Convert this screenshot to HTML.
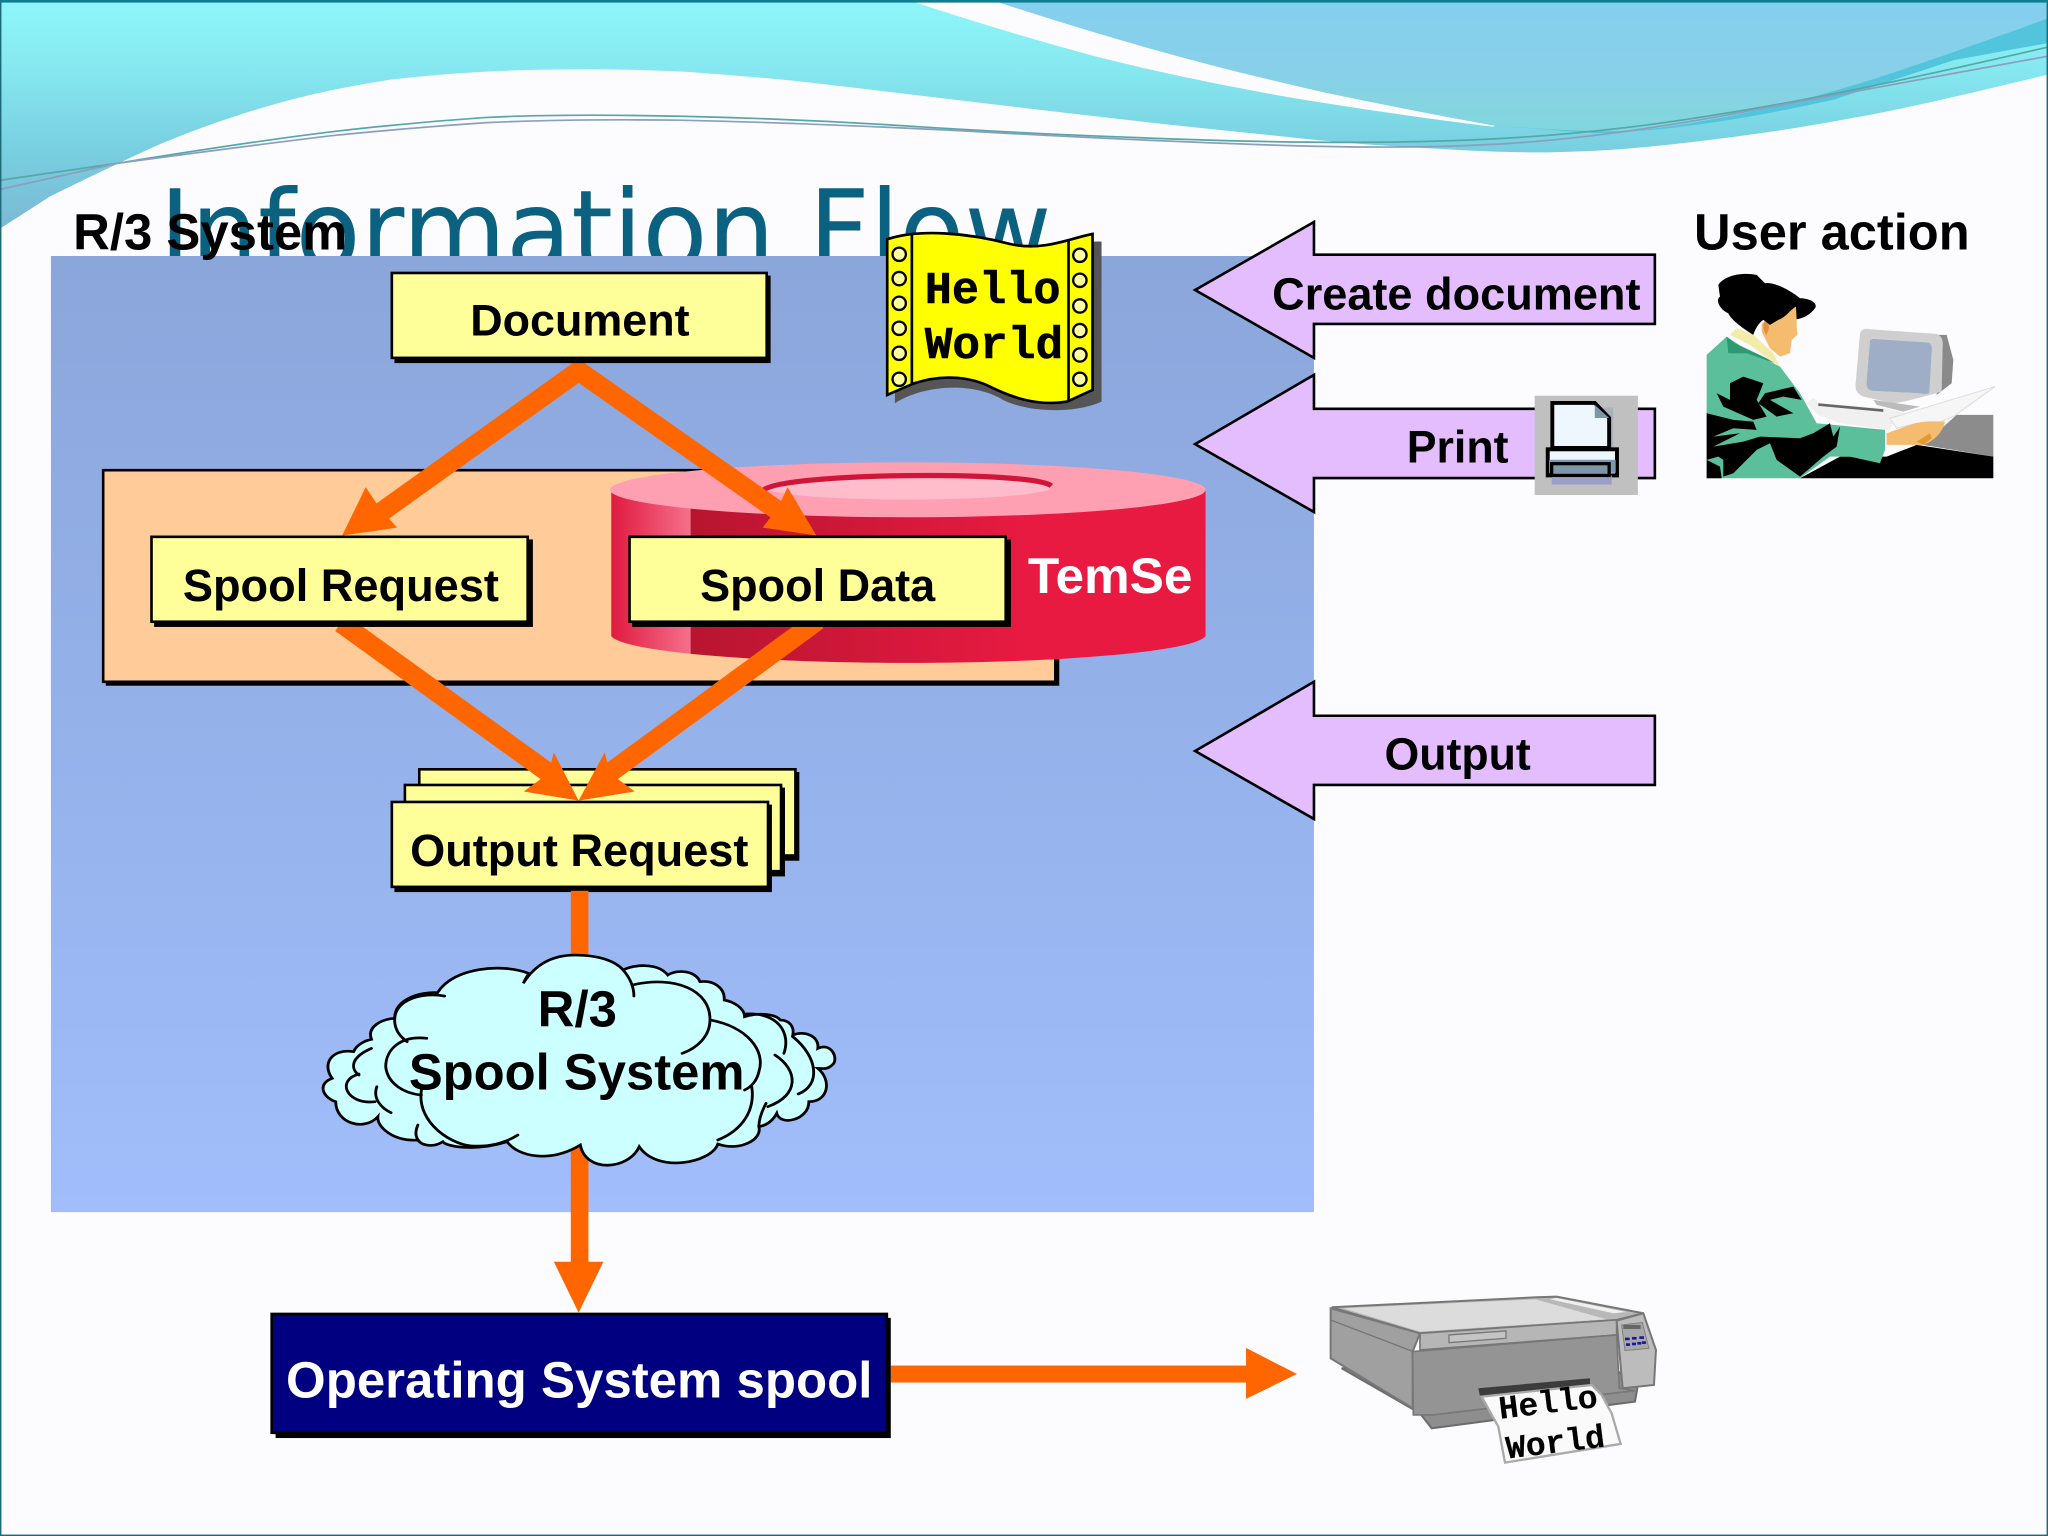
<!DOCTYPE html>
<html><head><meta charset="utf-8"><title>Information Flow</title>
<style>html,body{margin:0;padding:0;background:#fcfbfd}svg{display:block}
text{font-family:"Liberation Sans",sans-serif;font-weight:bold;fill:#000}
.m{font-family:"Liberation Mono",monospace;stroke:#000;stroke-width:.4}</style></head><body>
<svg width="2048" height="1536" viewBox="0 0 1568 1176" xmlns="http://www.w3.org/2000/svg">
<defs>
<linearGradient id="cy" gradientUnits="userSpaceOnUse" x1="0" y1="0" x2="0" y2="176"><stop offset="0" stop-color="#8ef7fa"/><stop offset=".3" stop-color="#86e8f0"/><stop offset=".65" stop-color="#78cfe0"/><stop offset="1" stop-color="#7cb8d4"/></linearGradient>
<linearGradient id="bl" gradientUnits="userSpaceOnUse" x1="0" y1="0" x2="0" y2="100"><stop offset="0" stop-color="#84cfef"/><stop offset=".5" stop-color="#88d0ea"/><stop offset="1" stop-color="#82d6dc"/></linearGradient>
<linearGradient id="pn" x1="0" y1="0" x2="0" y2="1"><stop offset="0" stop-color="#8aa6da"/><stop offset="1" stop-color="#a1bdfb"/></linearGradient>
<linearGradient id="cyl" x1="0" y1="0" x2="1" y2="0"><stop offset="0" stop-color="#e01a40"/><stop offset=".133" stop-color="#f5708a"/><stop offset=".134" stop-color="#b81530"/><stop offset=".7" stop-color="#e81a42"/><stop offset="1" stop-color="#e81a42"/></linearGradient>
</defs>
<rect width="1568" height="1176" fill="#fcfbfd"/>
<!-- banner -->
<path d="M0,175L39,150Q90,125 121,111Q152,98 180,89Q207,80 236,73Q266,66 299,61Q332,57 369,55Q406,53 447,53Q488,53 527,55Q566,58 589,60Q612,62 703,73Q795,84 856,91Q917,98 978,104Q1039,111 1103,114Q1167,118 1206,116Q1246,115 1310,107Q1374,99 1420,90Q1466,82 1568,57V0H0Z" fill="url(#cy)"/>
<path d="M695,0Q771,25 838,43Q905,60 990,75Q1076,89 1143,97L1300,0Z" fill="#fcfbfd"/>
<path d="M759,0Q826,22 887,39Q948,56 1015,71Q1082,85 1143,96Q1222,102 1252,100Q1283,97 1328,88Q1374,79 1420,65Q1466,51 1568,14V0Z" fill="url(#bl)"/>
<path d="M1143,96Q1222,102 1252,100Q1283,97 1328,88Q1374,79 1420,65Q1466,51 1568,14V33L1496,46L1405,76Q1300,100 1222,102Z" fill="#52c4dc"/>
<path d="M0,138L90,125Q195,108 253,101Q312,94 371,90Q430,87 521,89Q612,91 703,97Q795,103 917,107Q1039,111 1130,107Q1222,103 1313,88Q1405,74 1568,36" fill="none" stroke="#55a8a8" stroke-width="1.3"/>
<path d="M0,145L90,125Q195,111 253,104Q312,98 371,94Q430,91 521,92Q612,94 734,100Q856,107 972,111Q1088,115 1167,109Q1246,103 1349,83Q1453,64 1568,43" fill="none" stroke="#8a9fbe" stroke-width="1.3"/>
<rect x=".5" y="1" width="1567" height="1174.5" fill="none" stroke="#1d6a78" stroke-width="1.2"/>
<rect x="0" y="0" width="1568" height="2" fill="#0f7e90"/>
<text x="122" y="206" font-size="85" textLength="683" lengthAdjust="spacingAndGlyphs" style="font-family:'DejaVu Sans',sans-serif;font-weight:normal;fill:#0a6280">Information Flow</text>
<rect x="39" y="196" width="967" height="732" fill="url(#pn)"/>
<text x="56" y="191" font-size="39" textLength="210" lengthAdjust="spacingAndGlyphs">R/3 System</text>
<text x="1297" y="191" font-size="38.7" textLength="211" lengthAdjust="spacingAndGlyphs">User action</text>

<!-- orange spool box -->
<rect x="81" y="362" width="730" height="163" fill="#000"/>
<rect x="79" y="360" width="729" height="162" fill="#ffcc99" stroke="#000" stroke-width="2"/>
<!-- cylinder -->
<path d="M468,376V487A228,22 0 0 0 923,487V376Z" fill="url(#cyl)"/>
<ellipse cx="695" cy="375" rx="228" ry="21" fill="#ff9fb2"/>
<ellipse cx="695" cy="373" rx="110" ry="9.500" fill="#ffbccb"/>
<path d="M585,375C600,362 790,360 805,372" fill="none" stroke="#d01538" stroke-width="4"/>
<text x="787" y="454" font-size="38" textLength="126" lengthAdjust="spacingAndGlyphs" style="fill:#fff">TemSe</text>

<!-- output stack -->
<g stroke="#000" stroke-width="2">
<rect x="324" y="592" width="287" height="66" fill="#000"/><rect x="321" y="589" width="288" height="66" fill="#ffff99"/>
<rect x="313" y="604" width="287" height="66" fill="#000"/><rect x="310" y="601" width="288" height="66" fill="#ffff99"/>
<rect x="303" y="617" width="287" height="65" fill="#000"/><rect x="300" y="614" width="288" height="65" fill="#ffff99"/>
</g>

<!-- orange connectors -->
<g stroke="#ff6600" stroke-width="15" fill="none">
<path d="M292,392L443,284L597,392"/>
<path d="M261,477L426,596"/><path d="M626,475L461,596"/>
</g>
<g fill="#ff6600">
<path d="M262,410L280,373L290,388L304,404Z"/>
<path d="M625,410L603,373L596,388L584,404Z"/>
<path d="M443,613L424,576L420,592L401,606Z"/>
<path d="M443,613L463,576L467,592L486,606Z"/>
<rect x="437" y="682" width="13.5" height="285"/>
<path d="M424,966H462L443,1005Z"/>
<rect x="682" y="1045.500" width="273" height="13"/>
<path d="M954,1032L993,1052L954,1071Z"/>
</g>

<!-- boxes over arrow starts -->
<g stroke="#000" stroke-width="2">
<rect x="303" y="212" width="286" height="65" fill="#000"/><rect x="300" y="209" width="287" height="65" fill="#ffff99"/>
<rect x="119" y="414" width="288" height="65" fill="#000"/><rect x="116" y="411" width="288" height="65" fill="#ffff99"/>
<rect x="485" y="414" width="288" height="65" fill="#000"/><rect x="482" y="411" width="288" height="65" fill="#ffff99"/>
</g>
<text x="360" y="257" font-size="34.4" textLength="168" lengthAdjust="spacingAndGlyphs">Document</text>
<text x="140" y="460" font-size="34.5" textLength="242" lengthAdjust="spacingAndGlyphs">Spool Request</text>
<text x="536" y="460" font-size="34.5" textLength="180" lengthAdjust="spacingAndGlyphs">Spool Data</text>
<text x="314" y="663" font-size="34.5" textLength="259" lengthAdjust="spacingAndGlyphs">Output Request</text>

<!-- cloud -->
<g transform="translate(229.7,704.4) scale(.2734,.2552)" fill="none" stroke="#000" stroke-width="8" stroke-linecap="round">
<path fill="#ccffff" d="M625,190C660,130 710,105 770,105C830,105 880,120 905,150C930,135 1000,125 1030,165C1060,145 1110,155 1120,185C1160,180 1190,205 1188,240C1215,245 1245,265 1245,290C1290,275 1335,285 1345,300C1370,300 1385,320 1380,345C1415,330 1455,350 1450,385C1490,365 1510,420 1490,435C1475,450 1465,445 1450,445C1490,480 1480,545 1425,545C1425,600 1345,620 1335,580C1325,600 1310,615 1285,620C1295,660 1230,695 1170,672C1150,730 1000,760 950,680C920,750 800,760 785,675C700,730 610,710 580,665C490,695 410,680 400,665C370,685 340,675 330,660C260,665 215,620 218,590C180,635 100,610 100,545C60,530 50,490 90,475C60,430 90,385 150,395C160,370 190,360 200,358C185,315 240,295 265,295C265,235 340,215 385,218C430,140 570,130 640,160Z"/>
<path d="M905,150C925,175 935,200 935,228"/>
<path d="M930,195C1050,165 1150,210 1148,300C1148,350 1110,385 1070,400"/>
<path d="M1150,300C1250,320 1305,390 1285,455C1280,480 1265,500 1245,510"/>
<path d="M1245,282C1340,275 1375,340 1355,400"/>
<path d="M1330,405C1395,450 1400,525 1310,560"/>
<path d="M1380,350C1450,410 1460,495 1395,522"/>
<path d="M405,228C340,215 265,240 265,300C265,330 280,350 300,365"/>
<path d="M355,355C280,345 240,390 240,440C245,490 290,520 340,525"/>
<path d="M340,510C325,610 430,680 490,678C540,680 580,665 610,645"/>
<path d="M1265,500C1275,570 1240,630 1170,660"/>
<path d="M215,500C205,530 220,560 255,578"/>
<path d="M165,462C100,480 130,555 210,545"/>
<path d="M200,385C135,415 145,450 165,465"/>
<path d="M330,615C320,640 325,655 335,665"/>
<path d="M1305,550C1290,580 1285,600 1285,620"/>
</g>
<text x="442" y="786" font-size="39" text-anchor="middle">R/3</text>
<text x="313" y="834" font-size="39" textLength="257" lengthAdjust="spacingAndGlyphs">Spool System</text>

<!-- OS spool -->
<rect x="211" y="1009" width="471" height="92" fill="#000"/>
<rect x="208" y="1006" width="471" height="91" fill="#000080" stroke="#000" stroke-width="2"/>
<text x="219" y="1070" font-size="39" textLength="449" lengthAdjust="spacingAndGlyphs" style="fill:#fff">Operating System spool</text>

<!-- Hello World banner -->
<g transform="translate(666,168.4) scale(.2552)" stroke-width="8">
<path d="M75,62C200,40 300,55 420,85C520,110 620,60 695,65V545C620,580 480,580 400,540C300,480 150,500 75,550Z" fill="#555"/>
<path d="M52,58C150,25 300,40 420,72C520,95 600,55 668,42V510L592,545C500,560 420,530 360,500C280,460 190,470 128,492L52,525Z" fill="#ffff00" stroke="#000"/>
<path d="M126,40V494M596,58V544" stroke="#000" fill="none"/>
<g fill="#ffffa0" stroke="#000" stroke-width="7">
<circle cx="88" cy="103" r="20"/><circle cx="88" cy="176" r="20"/><circle cx="88" cy="250" r="20"/><circle cx="88" cy="325" r="20"/><circle cx="88" cy="400" r="20"/><circle cx="88" cy="478" r="20"/>
<circle cx="630" cy="106" r="20"/><circle cx="630" cy="181" r="20"/><circle cx="630" cy="258" r="20"/><circle cx="630" cy="332" r="20"/><circle cx="630" cy="405" r="20"/><circle cx="630" cy="478" r="20"/>
</g>
</g>
<text class="m" x="708" y="232" font-size="34.7" textLength="104" lengthAdjust="spacingAndGlyphs">Hello</text>
<text class="m" x="708" y="274" font-size="34.7" textLength="106" lengthAdjust="spacingAndGlyphs">World</text>

<!-- user action arrows -->
<g fill="#e3bdfd" stroke="#000" stroke-width="2">
<path d="M915,222L1006,170V195H1267V248H1006V274Z"/>
<path d="M915,340L1006,287V313H1267V366H1006V392Z"/>
<path d="M915,575L1006,522V548H1267V601H1006V627Z"/>
</g>
<text x="974" y="237" font-size="34.5" textLength="282" lengthAdjust="spacingAndGlyphs">Create document</text>
<text x="1077" y="354" font-size="34.5" textLength="78" lengthAdjust="spacingAndGlyphs">Print</text>
<text x="1060" y="589" font-size="34.5" textLength="112" lengthAdjust="spacingAndGlyphs">Output</text>

<!-- print icon -->
<rect x="1175" y="303" width="79" height="76" fill="#c0c0c0"/>
<path d="M1192,312H1235V352H1192Z" fill="#9aa8b8" opacity=".6"/>
<path d="M1188.500,308.500H1221L1232,320V343H1188.500Z" fill="#eef7fd" stroke="#000" stroke-width="3"/>
<path d="M1221,310L1232,320H1221Z" fill="#7e97a8"/>
<rect x="1185" y="344" width="53" height="20" fill="#eef7fd" stroke="#000" stroke-width="3"/>
<rect x="1186" y="352" width="51" height="10" fill="#7e97b4"/>
<rect x="1188" y="364" width="46" height="7" fill="#9aa0c8"/>
<rect x="1188" y="355" width="44" height="9" fill="#7e97a8" stroke="#000" stroke-width="2.500"/>

<!-- person -->
<g transform="translate(1293.900,199) scale(.2552)">
<path d="M700,555L800,465L910,465V590Z" fill="#8c8c8c"/>
<path d="M740,225L770,225L790,300L785,370L740,405Z" fill="#8a8a8a"/>
<path d="M510,220C515,208 525,205 540,208L740,222C755,228 760,240 758,260L755,395C700,410 650,425 610,430L520,410C500,400 495,390 497,370Z" fill="#cfcfcf"/>
<path d="M540,245C540,238 548,236 560,238L715,248C725,252 727,260 725,275L718,395C716,405 700,402 690,400L545,392C530,388 530,380 530,365Z" fill="#9eaec6"/>
<path d="M550,420L690,440L640,455L560,435Z" fill="#bbb"/>
<path d="M350,430L370,415L395,432L590,445L640,460L610,490L600,510L450,490L385,465Z" fill="#f0f0f0"/>
<path d="M385,434L580,452" stroke="#666" stroke-width="8" fill="none"/>
<path d="M600,475L915,380L790,470L740,490L680,490L620,505Z" fill="#f6f6f6" stroke="#ddd" stroke-width="3"/>
<path d="M590,520L660,495C700,480 740,485 765,485C760,510 740,540 700,555L590,555Z" fill="#f5bc70"/>
<path d="M680,545L720,520L725,535L700,555Z" fill="#e09a30"/>
<path d="M330,655L450,590L590,590L680,555L910,590V655Z" fill="#000"/>
<path d="M50,285L110,230L170,270L270,320L330,400L380,490L585,510L585,570L570,610L480,590L420,590L330,655H50Z" fill="#5bbf9b"/>
<path d="M110,230L135,250L230,295L255,310L170,280L115,280Z" fill="#2f9a72"/>
<path d="M120,225L140,205L190,225L250,280L270,320L240,300L180,255Z" fill="#f2eca8"/>
<path d="M120,370L160,350L190,360L220,370L200,420L230,470L190,480L100,440L80,400L120,420ZM225,400L310,380L335,420L280,410L240,420L310,460L260,470L205,430Z" fill="#000"/>
<path d="M50,460L130,480L190,485L200,510L130,505L70,530L150,520L70,560L160,545L210,530L330,535L370,520L420,490L430,530L450,500L440,560L400,590L330,650L260,600L240,550L200,570L130,640L100,650L100,600L85,590L50,600V655H95L90,620L50,600Z" fill="#000"/>
<path d="M215,190C260,170 300,150 320,140L320,200L322,225L305,240L300,280L270,290L240,265L215,215Z" fill="#f5bc70"/>
<path d="M225,180C240,185 240,210 228,225C218,210 218,195 225,180Z" fill="#e09040"/>
<path d="M85,75C100,50 150,35 200,45L225,70C250,65 300,90 330,115C360,115 385,130 375,145C360,165 340,175 320,178L318,140C300,150 290,170 265,180L240,195L220,180C205,190 195,210 190,225C150,200 120,175 115,160C90,150 75,120 90,110Z" fill="#000"/>
</g>

<!-- printer -->
<g transform="translate(995.3,972.3) scale(.2552)">
<path d="M125,295L360,430L395,475L1005,395L1012,355L950,300L300,300Z" fill="#8e8e8e" stroke="#6c6c6c" stroke-width="6"/>
<path d="M92,115V265L338,415V245L360,190Z" fill="#a0a0a0" stroke="#777" stroke-width="6"/>
<path d="M92,150L340,245" stroke="#777" stroke-width="4" fill="none"/>
<path d="M95,112L710,82L770,80L1030,130L950,150L360,190Z" fill="#b8b8b8" stroke="#777" stroke-width="6"/>
<path d="M130,115L705,88L920,148L360,185Z" fill="#dcdcdc"/>
<path d="M750,88L770,84L980,126L940,130Z" fill="#f0f0f0"/>
<path d="M360,190L950,150V195L360,240Z" fill="#b6b6b6" stroke="#777" stroke-width="5"/>
<path d="M447,195L618,183V205L447,218Z" fill="#c4c4c4" stroke="#777" stroke-width="4"/>
<path d="M338,245L950,195L958,355L1005,362L400,435H340Z" fill="#949494" stroke="#777" stroke-width="5"/>
<path d="M950,152L1030,130L1068,240L1062,345L968,355Z" fill="#bcbcbc" stroke="#777" stroke-width="6"/>
<path d="M965,165L1027,158L1047,235L975,242Z" fill="#a8a8a8" stroke="#808080" stroke-width="3"/>
<rect x="970" y="165" width="52" height="12" fill="#666"/>
<g fill="#1a1a9a"><rect x="975" y="203" width="14" height="8"/><rect x="996" y="201" width="14" height="8"/><rect x="1018" y="199" width="14" height="8"/><rect x="978" y="220" width="12" height="8"/><rect x="996" y="218" width="12" height="8"/><rect x="1012" y="216" width="12" height="8"/><rect x="1026" y="214" width="12" height="8"/></g>
<path d="M535,355L870,325V343L540,378Z" fill="#3c3c3c"/>
<path d="M545,380L875,345L905,375L935,430L962,522L615,578L595,470Z" fill="#fafafa" stroke="#aaa" stroke-width="7"/>
<text class="m" x="600" y="447" font-size="98" textLength="298" lengthAdjust="spacingAndGlyphs" transform="rotate(-7 600 447)">Hello</text>
<text class="m" x="622" y="566" font-size="98" textLength="298" lengthAdjust="spacingAndGlyphs" transform="rotate(-7 622 566)">World</text>
</g>
</svg>
</body></html>
